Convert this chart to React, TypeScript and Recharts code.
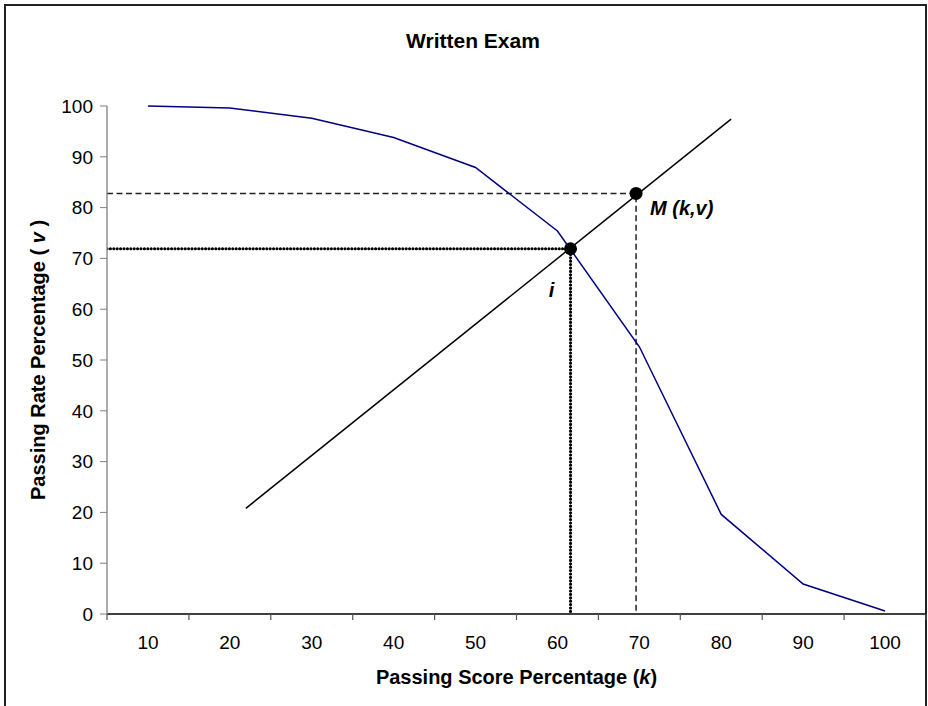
import {ComposedChart, Label, Line, Scatter, XAxis, YAxis} from 'recharts';

// passing rate curve, one value per 10% passing score
const SCORE_K = [10, 20, 30, 40, 50, 60, 70, 80, 90, 100];
const RATE_V = [100, 99.6, 97.6, 93.8, 87.9, 75.4, 52.6, 19.6, 5.9, 0.6];

// straight line k -> v
const DIAG_K = [21.95, 81.2];
const DIAG_V = [20.8, 97.4];

// marked points
const POINT_NAMES = ['i', 'M (k,v)'];
const POINT_K = [61.6, 69.6];
const POINT_V = [71.9, 82.8];

const Y_TICKS = [0, 10, 20, 30, 40, 50, 60, 70, 80, 90, 100];
const X_LABELS = [10, 20, 30, 40, 50, 60, 70, 80, 90, 100];
const X_MARKS = [5, 15, 25, 35, 45, 55, 65, 75, 85, 95, 105];

const FONT = '"Liberation Sans", Arial, sans-serif';

const curveData = SCORE_K.map((k, i) => ({k, v: RATE_V[i]}));
const diagData = DIAG_K.map((k, i) => ({k, v: DIAG_V[i]}));
const pointData = POINT_NAMES.map((name, i) => ({k: POINT_K[i], v: POINT_V[i], name}));

const kMin = X_MARKS[0];
const iGuide = [
    {k: kMin, v: POINT_V[0]},
    {k: POINT_K[0], v: POINT_V[0]},
    {k: POINT_K[0], v: 0.5}
];
const mGuide = [
    {k: kMin, v: POINT_V[1]},
    {k: POINT_K[1], v: POINT_V[1]},
    {k: POINT_K[1], v: 0}
];

const xTicks = [...X_MARKS, ...X_LABELS].sort((a, b) => a - b);

const labelOffset: Record<string, {dx: number; dy: number; anchor: string}> = {
    'i': {dx: -19, dy: 48, anchor: 'middle'},
    'M (k,v)': {dx: 14, dy: 22, anchor: 'start'}
};

const XTick = ({x, y, payload}: any) => {
    const val = payload.value;
    if (val % 10 === 0) {
        return (
            <text x={x} y={y + 35} textAnchor="middle" fontSize={19} fontFamily={FONT} fill="#000">
                {val}
            </text>
        );
    }
    return <line x1={x} y1={y} x2={x} y2={y + 6} stroke="#555" strokeWidth={1.2}/>;
};

const PointShape = (p: any) => {
    const off = labelOffset[p.payload.name];
    return (
        <g>
            <circle cx={p.cx} cy={p.cy} r={6.5} fill="#000"/>
            <text
                x={p.cx + off.dx}
                y={p.cy + off.dy}
                textAnchor={off.anchor}
                fontSize={20}
                fontWeight="bold"
                fontStyle="italic"
                fontFamily={FONT}
                fill="#000"
            >
                {p.payload.name}
            </text>
        </g>
    );
};

const App = () => {
    return (
        <div style={{position: 'absolute', left: 0, top: 0, width: 928, height: 706, overflow: 'hidden', background: '#fff'}}>
            <div style={{position: 'absolute', left: 4, top: 4, width: 919, height: 760, border: '2px solid #222'}}/>
            <div style={{position: 'absolute', left: 0, top: 0}}>
                <ComposedChart width={928} height={706} margin={{top: 106, right: 2, bottom: 0, left: 0}}>
                    <XAxis
                        type="number"
                        dataKey="k"
                        domain={[5, 105]}
                        ticks={xTicks}
                        interval={0}
                        allowDataOverflow
                        height={92}
                        tickSize={0}
                        tickMargin={0}
                        tickLine={false}
                        tick={<XTick/>}
                        axisLine={{stroke: '#000', strokeWidth: 1.3}}
                    >
                        <Label
                            content={(props: any) => {
                                const vb = props.viewBox;
                                return (
                                    <text
                                        x={vb.x + vb.width / 2}
                                        y={vb.y + 70}
                                        textAnchor="middle"
                                        fontSize={20}
                                        fontWeight="bold"
                                        fontFamily={FONT}
                                        fill="#000"
                                    >
                                        Passing Score Percentage (<tspan fontStyle="italic">k</tspan>)
                                    </text>
                                );
                            }}
                        />
                    </XAxis>
                    <YAxis
                        type="number"
                        dataKey="v"
                        domain={[0, 100]}
                        ticks={Y_TICKS}
                        interval={0}
                        width={107}
                        tickSize={7}
                        tickMargin={7}
                        tickLine={{stroke: '#808080'}}
                        axisLine={{stroke: '#808080', strokeWidth: 1.3}}
                        tick={{fill: '#000', fontSize: 19, fontFamily: FONT}}
                    >
                        <Label
                            content={(props: any) => {
                                const vb = props.viewBox;
                                const cx = vb.x + 38;
                                const cy = vb.y + vb.height / 2;
                                return (
                                    <text
                                        x={cx}
                                        y={cy}
                                        transform={`rotate(-90, ${cx}, ${cy})`}
                                        textAnchor="middle"
                                        dominantBaseline="central"
                                        fontSize={20}
                                        fontWeight="bold"
                                        fontFamily={FONT}
                                        fill="#000"
                                    >
                                        Passing Rate Percentage ( <tspan fontStyle="italic">v</tspan> )
                                    </text>
                                );
                            }}
                        />
                    </YAxis>
                    <Line
                        data={mGuide}
                        dataKey="v"
                        stroke="#222"
                        strokeWidth={1.5}
                        strokeDasharray="6 3.5"
                        dot={false}
                        activeDot={false}
                        isAnimationActive={false}
                    />
                    <Line
                        data={iGuide}
                        dataKey="v"
                        stroke="#000"
                        strokeWidth={3.2}
                        strokeDasharray="0 3.4"
                        strokeLinecap="round"
                        dot={false}
                        activeDot={false}
                        isAnimationActive={false}
                    />
                    <Line
                        data={curveData}
                        dataKey="v"
                        stroke="#000080"
                        strokeWidth={1.5}
                        dot={false}
                        activeDot={false}
                        isAnimationActive={false}
                    />
                    <Line
                        data={diagData}
                        dataKey="v"
                        stroke="#000"
                        strokeWidth={1.5}
                        dot={false}
                        activeDot={false}
                        isAnimationActive={false}
                    />
                    <Scatter data={pointData} dataKey="v" shape={PointShape} isAnimationActive={false}/>
                </ComposedChart>
            </div>
            <div
                style={{
                    position: 'absolute',
                    left: 323,
                    top: 30,
                    width: 300,
                    textAlign: 'center',
                    fontFamily: FONT,
                    fontWeight: 'bold',
                    fontSize: 21,
                    lineHeight: '21px',
                    color: '#000'
                }}
            >
                Written Exam
            </div>
        </div>
    );
};

export default App;
